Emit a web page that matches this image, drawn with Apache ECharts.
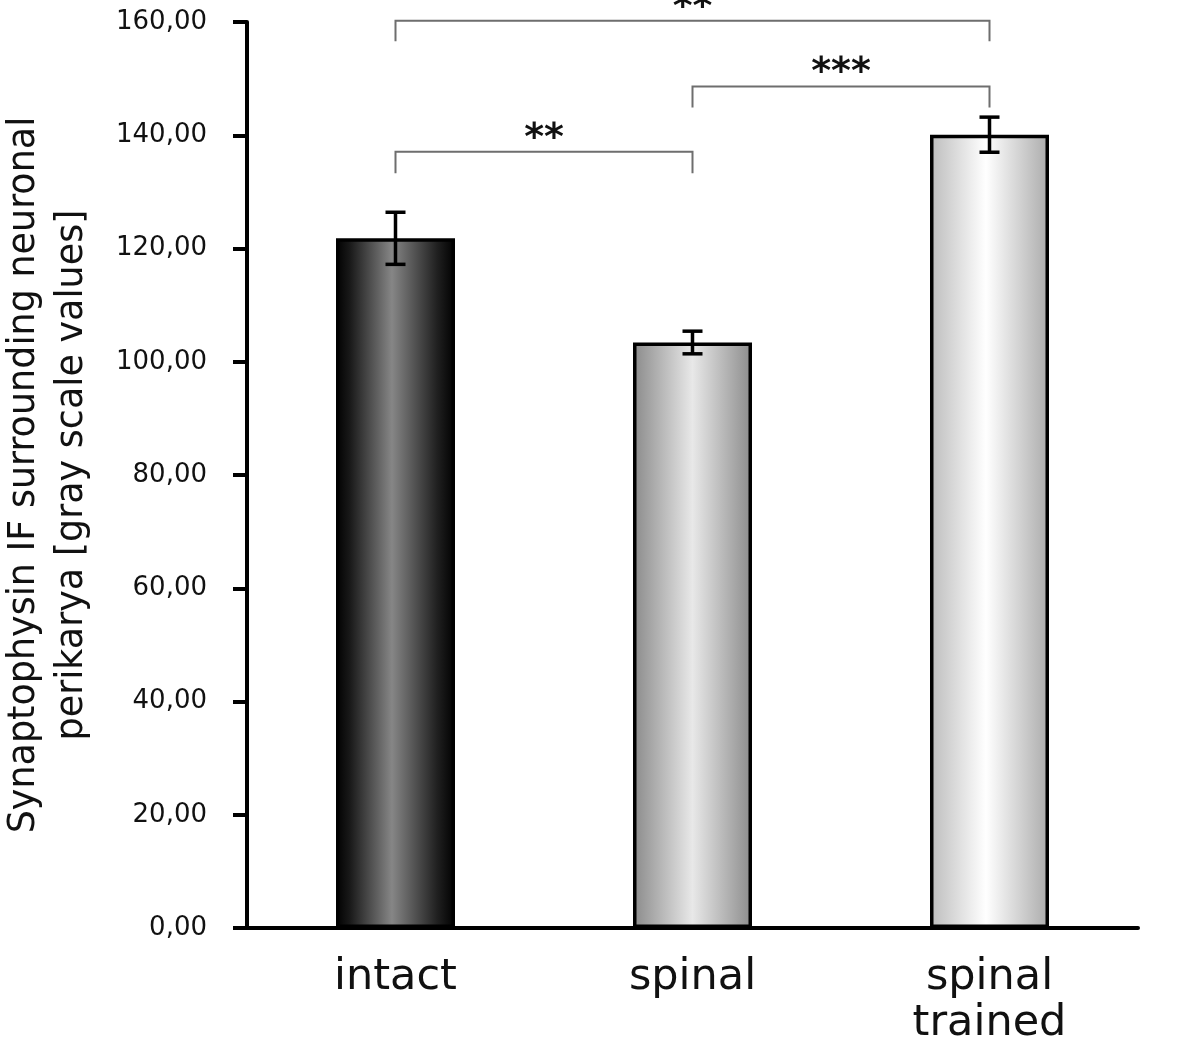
<!DOCTYPE html>
<html>
<head>
<meta charset="utf-8">
<script src="https://cdn.jsdelivr.net/npm/echarts@6/dist/echarts.min.js"></script>
<style>
html,body{margin:0;padding:0;background:#fff;}
#chart{width:1200px;height:1060px;}
</style>
</head>
<body>
<div id="chart"></div>
<script>
// ---- data ----
const categories = ['intact', 'spinal', 'spinal\ntrained'];
const means = [121.8, 103.4, 140.1];
const sems = [4.6, 2.0, 3.1];
const yMin = 0, yMax = 160, yInterval = 20;
// significance brackets
const bracketFrom = [0, 1, 0];
const bracketTo = [2, 2, 1];
const bracketY = [160.2, 148.6, 137.1];
const bracketTickEnd = [156.6, 144.9, 133.3];
const bracketLabel = ['**', '***', '**'];

// ---- styles ----
const FONT = '"DejaVu Sans", Arial, sans-serif';
const gradients = [
  [[0, '#000000'], [0.12, '#1a1a1a'], [0.47, '#868686'], [0.85, '#202020'], [1, '#000000']],
  [[0, '#8a8a8a'], [0.5, '#e8e8e8'], [1, '#8c8c8c']],
  [[0, '#bcbcbc'], [0.47, '#ffffff'], [1, '#ababab']]
];

const chart = echarts.init(document.getElementById('chart'));

const barData = means.map((v, i) => ({
  value: v,
  itemStyle: {
    color: new echarts.graphic.LinearGradient(0, 0, 1, 0,
      gradients[i].map(s => ({offset: s[0], color: s[1]})))
  }
}));

const errData = means.map((v, i) => [i, v, sems[i]]);
const bracketData = bracketFrom.map((f, i) => [f, bracketTo[i], bracketY[i], bracketTickEnd[i], i]);

chart.setOption({
  animation: false,
  backgroundColor: '#ffffff',
  grid: {left: 247, right: 62, top: 22, bottom: 132, containLabel: false, outerBoundsMode: 'none'},
  xAxis: {
    type: 'category',
    data: categories,
    axisLine: {lineStyle: {color: '#000', width: 4}},
    axisTick: {show: false},
    axisLabel: {
      color: '#111', fontFamily: FONT, fontSize: 43, margin: 27, lineHeight: 46
    },
    splitLine: {show: false}
  },
  yAxis: {
    type: 'value',
    min: yMin, max: yMax, interval: yInterval,
    name: 'Synaptophysin IF surrounding neuronal\nperikarya [gray scale values]',
    nameLocation: 'middle',
    nameGap: 150,
    nameTextStyle: {color: '#111', fontFamily: FONT, fontSize: 36.5, lineHeight: 48},
    axisLine: {show: true, lineStyle: {color: '#000', width: 4}},
    axisTick: {show: true, inside: false, length: 14, lineStyle: {color: '#000', width: 4}},
    axisLabel: {
      color: '#111', fontFamily: FONT, fontSize: 26, margin: 40,
      formatter: v => v.toFixed(2).replace('.', ',')
    },
    splitLine: {show: false}
  },
  series: [
    {
      type: 'bar',
      data: barData,
      barWidth: 119,
      itemStyle: {borderColor: '#000', borderWidth: 3.5},
      z: 2
    },
    {
      type: 'custom',
      data: errData,
      encode: {x: 0, y: 1},
      z: 4,
      renderItem: function (params, api) {
        const i = api.value(0), m = api.value(1), e = api.value(2);
        const top = api.coord([i, m + e]);
        const bot = api.coord([i, m - e]);
        const hw = 10;
        const st = {stroke: '#000', lineWidth: 3.5, fill: null};
        return {
          type: 'group',
          children: [
            {type: 'line', shape: {x1: top[0], y1: top[1], x2: bot[0], y2: bot[1]}, style: st},
            {type: 'line', shape: {x1: top[0] - hw, y1: top[1], x2: top[0] + hw, y2: top[1]}, style: st},
            {type: 'line', shape: {x1: bot[0] - hw, y1: bot[1], x2: bot[0] + hw, y2: bot[1]}, style: st}
          ]
        };
      }
    },
    {
      type: 'custom',
      data: bracketData,
      encode: {x: 0, y: 2},
      z: 5,
      clip: false,
      renderItem: function (params, api) {
        const f = api.value(0), t = api.value(1), y = api.value(2), ye = api.value(3);
        const idx = api.value(4);
        const p1 = api.coord([f, ye]);
        const p2 = api.coord([f, y]);
        const p3 = api.coord([t, y]);
        const p4 = api.coord([t, ye]);
        return {
          type: 'group',
          children: [
            {type: 'polyline', shape: {points: [p1, p2, p3, p4]},
             style: {stroke: '#6e6e6e', lineWidth: 2, fill: null}},
            {type: 'text', style: {
              text: bracketLabel[idx], x: (p2[0] + p3[0]) / 2, y: p2[1] - 13,
              align: 'center', verticalAlign: 'middle',
              font: 'bold 38px ' + FONT, fill: '#111'
            }}
          ]
        };
      }
    }
  ]
});
</script>
</body>
</html>
